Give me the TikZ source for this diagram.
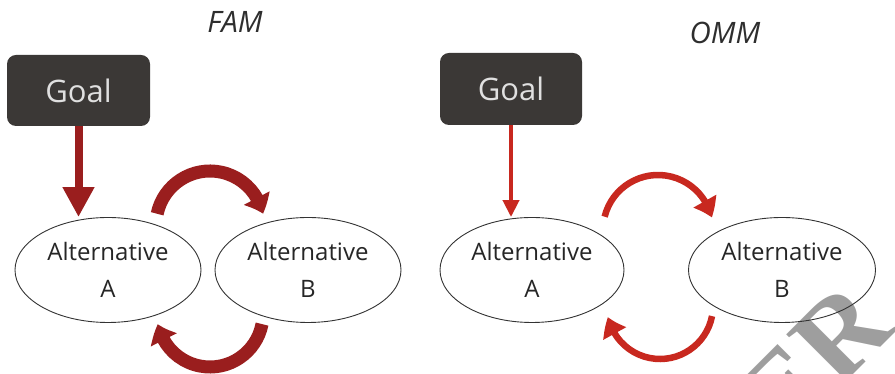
\documentclass[tikz,border=0pt]{standalone}
\usepackage{fontspec}
\setmainfont{Open Sans}
\newfontfamily\wmfont{Liberation Serif}
\usetikzlibrary{arrows.meta,bending,calc,shapes.geometric}
\definecolor{goalfill}{HTML}{3B3836}
\definecolor{famred}{HTML}{9A1E1E}
\definecolor{ommred}{HTML}{C8281F}
\definecolor{titlegray}{HTML}{2E2E2E}
\begin{document}
\begin{tikzpicture}[x=1pt,y=1pt,
  goalbox/.style={fill=goalfill, rounded corners=9pt, minimum width=143pt, minimum height=71pt, inner sep=0pt, text=white!88!black, font=\fontsize{31}{31}\selectfont},
  alt/.style={draw=black!80, line width=0.9pt, ellipse, minimum width=186pt, minimum height=105pt, inner sep=0pt, align=center, font=\fontsize{24}{37}\selectfont, text=black!85},
  title/.style={font=\fontsize{29.5}{30}\selectfont\itshape, text=titlegray},
  famstraight/.style={draw=famred, line width=8pt, -{Triangle[width=30pt,length=30pt]}},
  famarc/.style={draw=famred, line width=13pt, -{Triangle[width=28pt,length=17pt,bend]}},
  ommstraight/.style={draw=ommred, line width=4pt, -{Triangle[width=16pt,length=17pt]}},
  ommarc/.style={draw=ommred, line width=6.5pt, -{Triangle[width=25pt,length=18pt,bend]}},
  watermark/.style={rotate=45, inner sep=0pt, text=black!38, font=\wmfont\bfseries\fontsize{115}{115}\selectfont}
]
\useasboundingbox (0,0) rectangle (895,374);
\begin{scope}
  \clip (0,0) rectangle (895,374);
  \node[watermark] (wm) at (814,13) {ER};
\end{scope}

% FAM panel
\node[title] (famtitle) at (235,352) {FAM};
\node[goalbox] (G1) at (78.5,283.5) {Goal};
\node[alt] (A1) at (108,104) {Alternative\\A};
\node[alt] (B1) at (308,104) {Alternative\\B};
\draw[famstraight] (G1.south) -- (G1.south |- A1.north);
\coordinate (t1) at ($(A1)!0.5!(B1)+(2,45)$);
\coordinate (b1) at ($(A1)!0.5!(B1)+(2,-44)$);
\draw[famarc] ($(t1)+(168:54)$) arc[start angle=168,end angle=12,radius=54];
\draw[famarc] ($(b1)+(-11:53)$) arc[start angle=-11,end angle=-169,radius=53];

% OMM panel
\node[title] (ommtitle) at (725,341) {OMM};
\node[goalbox, minimum width=142pt, minimum height=72pt] (G2) at (511,285) {Goal};
\node[alt, minimum width=184pt] (A2) at (532,104) {Alternative\\A};
\node[alt, minimum width=187pt] (B2) at (782,104) {Alternative\\B};
\draw[ommstraight] (G2.south) -- (G2.south |- A2.north);
\coordinate (t2) at ($(A2)!0.5!(B2)+(1,40)$);
\coordinate (b2) at ($(A2)!0.5!(B2)+(3,-36)$);
\draw[ommarc] ($(t2)+(166:55)$) arc[start angle=166,end angle=13,radius=55];
\draw[ommarc] ($(b2)+(-11:53)$) arc[start angle=-11,end angle=-168,radius=53];
\end{tikzpicture}
\end{document}
